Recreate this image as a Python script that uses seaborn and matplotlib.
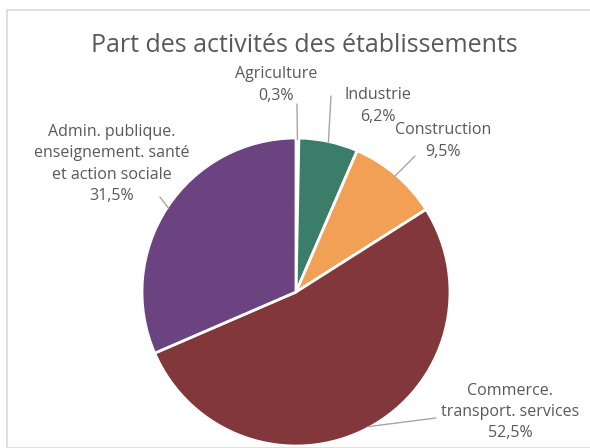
import numpy as np
import matplotlib
matplotlib.use('Agg')
import matplotlib.pyplot as plt
import seaborn as sns
from matplotlib.patches import Rectangle

sns.set_theme(style='white')
plt.rcParams['font.family'] = ['Open Sans', 'DejaVu Sans']

categories = ['Agriculture', 'Industrie', 'Construction',
              'Commerce.\ntransport. services',
              'Admin. publique.\nenseignement. santé\net action sociale']
values = [0.3, 6.2, 9.5, 52.5, 31.5]
pct_labels = ['0,3%', '6,2%', '9,5%', '52,5%', '31,5%']
colors = ['#4a6fa5', '#3a7d69', '#f2a055', '#82383a', '#6b4380']

# label text centres in pixels (from top-left), and leader end points
label_px = [(276, 85), (378, 106), (443, 141), (510, 412), (112, 164)]
leader_px = [(297, 104), (331, 96), (415, 156), (436, 418), (160, 197)]

W, H = 590, 448
cx, cy, r = 296, 292, 154

fig = plt.figure(figsize=(W / 100, H / 100), dpi=100)
ax = fig.add_axes([0, 0, 1, 1])

wedges, _ = ax.pie(values, colors=colors, startangle=90, counterclock=False,
                   radius=1, wedgeprops=dict(edgecolor='white', linewidth=2))
ax.set_xlim(-cx / r, (W - cx) / r)
ax.set_ylim(-(H - cy) / r, cy / r)
ax.set_aspect('equal')
ax.axis('off')

# chart frame
fig.patches.append(Rectangle((7 / W, 0), 1, 1 - 10 / H, transform=fig.transFigure,
                             fill=False, edgecolor='#d9d9d9', linewidth=1.2))

def to_data(p):
    return ((p[0] - cx) / r, (cy - p[1]) / r)

txt_color = '#595959'
for w, cat, pct, lp, ep in zip(wedges, categories, pct_labels, label_px, leader_px):
    ang = np.deg2rad((w.theta1 + w.theta2) / 2)
    start = (0.99 * np.cos(ang), 0.99 * np.sin(ang))
    end = to_data(ep)
    ax.plot([start[0], end[0]], [start[1], end[1]], color='#a6a6a6', lw=1)
    tx, ty = to_data(lp)
    ax.text(tx, ty, cat + '\n' + pct, ha='center', va='center', fontsize=11.5,
            color=txt_color, linespacing=1.45)

fig.text(304 / W, 1 - 45 / H, 'Part des activités des établissements', ha='center',
         va='center', fontsize=18, color=txt_color)

fig.savefig('out.png', dpi=100)
